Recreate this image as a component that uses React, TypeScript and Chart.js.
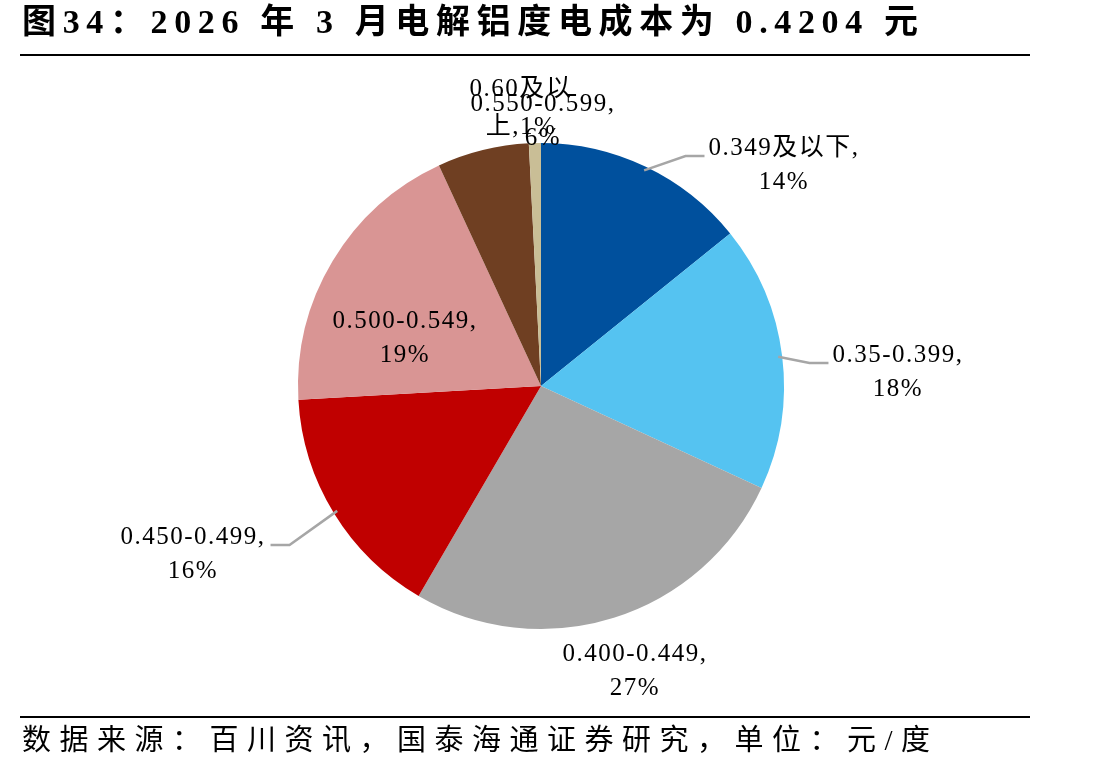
import React, { useEffect, useRef } from "react";
import { Chart, registerables } from "chart.js";

Chart.register(...registerables);

// ---- data ----
const categories = ["0.349及以下", "0.35-0.399", "0.400-0.449", "0.450-0.499", "0.500-0.549", "0.550-0.599", "0.60及以上"];
const shares = [14.2, 17.7, 26.5, 15.7, 19.0, 6.1, 0.8];
const sliceColors = ["#00509D", "#55C3F1", "#A6A6A6", "#C00000", "#D99594", "#6F3F22", "#C9BE96"];
const titleText = "图34：2026 年 3 月电解铝度电成本为 0.4204 元";
const sourceText = "数据来源：百川资讯，国泰海通证券研究，单位：元/度";

// ---- label layout (offset of first text line centre from pie centre) ----
const labelDx = [243, 357, 94, -348, -136, 2, -20];
const labelDy = [-238, -31, 268, 151, -65, -282, -297];
const hasLeader = [true, true, false, true, false, false, false];
const labelBreak: (number | null)[] = [null, null, null, null, null, null, 6];
const lineGap = 34;

const W = 1108;
const H = 776;
const SERIF = '"Liberation Serif", "Times New Roman", "Noto Sans CJK SC"';

function fitText(ctx: CanvasRenderingContext2D, text: string, x: number, y: number, width: number) {
  (ctx as any).letterSpacing = "0px";
  const w0 = ctx.measureText(text).width;
  const n = Array.from(text).length;
  const sp = n > 1 ? (width - w0) / (n - 1) : 0;
  (ctx as any).letterSpacing = sp + "px";
  ctx.textAlign = "left";
  ctx.fillText(text, x, y);
  (ctx as any).letterSpacing = "0px";
}

const decorPlugin = {
  id: "decor",
  beforeDraw(chart: any) {
    const ctx: CanvasRenderingContext2D = chart.ctx;
    ctx.save();
    ctx.fillStyle = "#ffffff";
    ctx.fillRect(0, 0, W, H);
    ctx.restore();
  },
  afterDraw(chart: any) {
    const ctx: CanvasRenderingContext2D = chart.ctx;
    ctx.save();
    // title
    ctx.fillStyle = "#000";
    ctx.textBaseline = "middle";
    ctx.font = `bold 34px ${SERIF}`;
    fitText(ctx, titleText, 22, 24, 896);
    // rules
    ctx.strokeStyle = "#000";
    ctx.lineWidth = 2;
    ctx.beginPath();
    ctx.moveTo(20, 55);
    ctx.lineTo(1030, 55);
    ctx.moveTo(20, 717);
    ctx.lineTo(1030, 717);
    ctx.stroke();
    // source
    ctx.font = `29px ${SERIF}`;
    fitText(ctx, sourceText, 22, 742, 908);

    // slice labels
    const total = shares.reduce((a, b) => a + b, 0);
    const meta = chart.getDatasetMeta(0);
    meta.data.forEach((arc: any, i: number) => {
      const p = arc.getProps(["x", "y", "outerRadius", "startAngle", "endAngle"], true);
      const mid = (p.startAngle + p.endAngle) / 2;
      const lx = p.x + labelDx[i];
      const ly = p.y + labelDy[i];
      const pct = Math.round((shares[i] / total) * 100);
      let l1: string;
      let l2: string;
      const br = labelBreak[i];
      if (br != null) {
        l1 = categories[i].slice(0, br);
        l2 = categories[i].slice(br) + "," + pct + "%";
      } else {
        l1 = categories[i] + ",";
        l2 = pct + "%";
      }
      ctx.font = `25px ${SERIF}`;
      (ctx as any).letterSpacing = "1.5px";
      ctx.fillStyle = "#000";
      ctx.textAlign = "center";
      ctx.textBaseline = "middle";
      ctx.fillText(l1, lx, ly);
      ctx.fillText(l2, lx, ly + lineGap + (br != null ? 4 : 0));
      if (hasLeader[i]) {
        const w = ctx.measureText(l1).width;
        const r = p.outerRadius - 4;
        const sx = p.x + Math.cos(mid) * r;
        const sy = p.y + Math.sin(mid) * r;
        const right = labelDx[i] > 0;
        const ex = right ? lx - w / 2 - 4 : lx + w / 2 + 5;
        const ey = ly + 8;
        const bx = right ? ex - 19 : ex + 19;
        ctx.strokeStyle = "#A6A6A6";
        ctx.lineWidth = 2.5;
        ctx.beginPath();
        ctx.moveTo(sx, sy);
        ctx.lineTo(bx, ey);
        ctx.lineTo(ex, ey);
        ctx.stroke();
      }
    });
    (ctx as any).letterSpacing = "0px";
    ctx.restore();
  },
};

export default function App() {
  const ref = useRef<HTMLCanvasElement | null>(null);
  useEffect(() => {
    if (!ref.current) return;
    const chart = new Chart(ref.current, {
      type: "pie",
      data: {
        labels: categories,
        datasets: [
          {
            data: shares,
            backgroundColor: sliceColors,
            borderWidth: 0,
          },
        ],
      },
      options: {
        responsive: false,
        animation: false,
        layout: { padding: { left: 298, right: 324, top: 143, bottom: 147 } },
        plugins: {
          legend: { display: false },
          tooltip: { enabled: false },
        },
      },
      plugins: [decorPlugin],
    });
    return () => chart.destroy();
  }, []);
  return (
    <div style={{ position: "absolute", left: 0, top: 0, width: W, height: H, background: "#fff" }}>
      <canvas ref={ref} width={W} height={H} style={{ width: W, height: H, display: "block" }} />
    </div>
  );
}
